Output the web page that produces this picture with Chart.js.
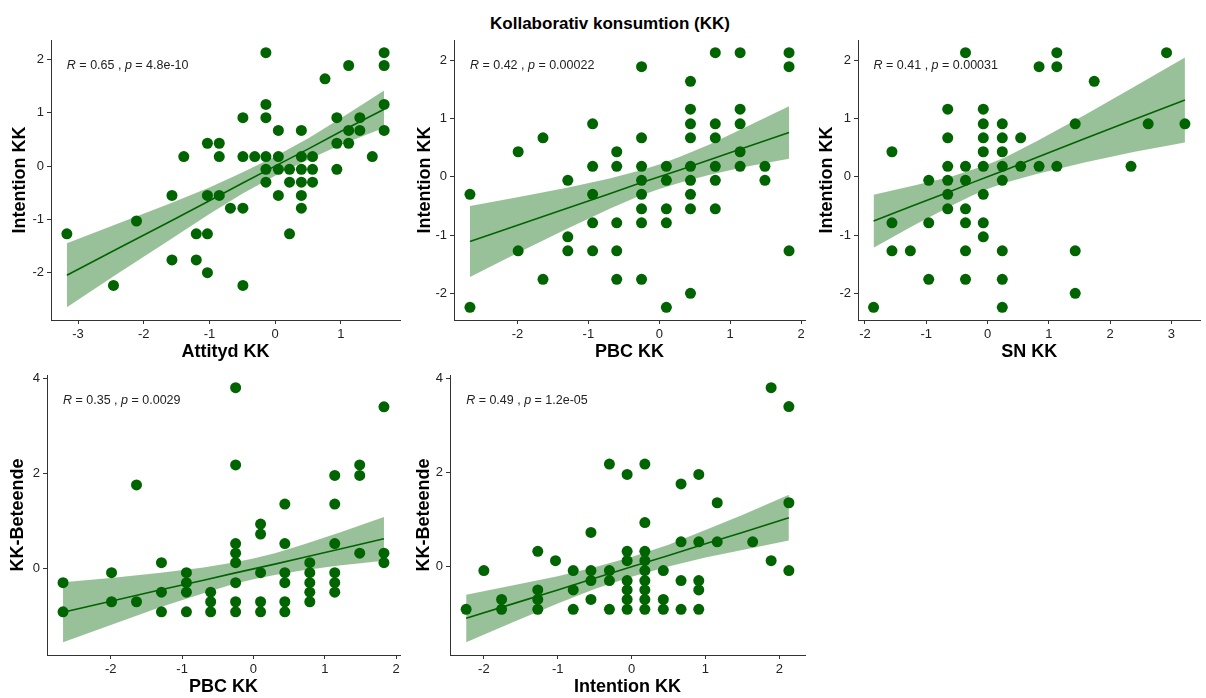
<!DOCTYPE html>
<html>
<head>
<meta charset="utf-8">
<title>Kollaborativ konsumtion (KK)</title>
<script src="https://cdn.jsdelivr.net/npm/chart.js@4.4.0/dist/chart.umd.min.js"></script>
<style>
    html, body { margin: 0; padding: 0; background: #fff; overflow: hidden; }
    body { width: 1206px; height: 698px; position: relative; font-family: "Liberation Sans", Arial, sans-serif; }
    .titel { position: absolute; left: 410px; top: 13px; width: 400px; text-align: center;
             font-size: 17px; font-weight: bold; line-height: 22px; color: #000; }
    .panel { position: absolute; }
</style>
</head>
<body>
<div class="titel">Kollaborativ konsumtion (KK)</div>
<div class="panel" style="left:0px;top:30px;width:410px;height:340px"><canvas id="p1"></canvas></div>
<div class="panel" style="left:405px;top:30px;width:410px;height:340px"><canvas id="p2"></canvas></div>
<div class="panel" style="left:807px;top:30px;width:399px;height:340px"><canvas id="p3"></canvas></div>
<div class="panel" style="left:0px;top:365px;width:410px;height:340px"><canvas id="p4"></canvas></div>
<div class="panel" style="left:405px;top:365px;width:410px;height:340px"><canvas id="p5"></canvas></div>
<script>
// Attityd KK vs Intention KK
const attityd1 = [-3.17,-2.46,-2.11,-1.57,-1.57,-1.39,-1.20,-1.20,-1.03,-1.03,-1.03,-1.03,-0.85,-0.85,-0.85,-0.68,-0.49,-0.49,-0.49,-0.49,-0.31,-0.14,-0.14,-0.14,-0.14,-0.14,-0.14,0.05,0.05,0.05,0.05,0.22,0.22,0.22,0.40,0.40,0.40,0.40,0.40,0.40,0.57,0.57,0.57,0.76,0.94,0.94,0.94,1.12,1.12,1.12,1.29,1.29,1.48,1.66,1.66,1.66,1.66];
const intention1 = [-1.27,-2.24,-1.03,-0.55,-1.76,0.18,-1.27,-1.76,0.43,-0.55,-1.27,-2.00,0.43,0.18,-0.55,-0.79,0.91,0.18,-0.79,-2.24,0.18,2.13,1.16,0.91,0.18,-0.06,-0.30,0.67,0.18,-0.06,-0.55,-0.06,-0.30,-1.27,0.67,0.18,-0.06,-0.30,-0.55,-0.79,0.18,-0.06,-0.30,1.64,0.91,0.43,-0.06,1.89,0.67,0.43,0.91,0.67,0.18,2.13,1.89,1.16,0.67];
const fitX1 = [-3.17,-2.4,-1.6,-1.0,-0.5,0,0.5,1.0,1.66];
const fit1 = [-2.05,-1.55,-1.04,-0.65,-0.32,0,0.32,0.65,1.07];
const hi1 = [-1.45,-1.08,-0.70,-0.40,-0.12,0.18,0.52,0.90,1.42];
const lo1 = [-2.65,-2.02,-1.38,-0.90,-0.52,-0.18,0.12,0.40,0.72];

// PBC KK vs Intention KK
const pbc2 = [-2.67,-2.67,-1.99,-1.99,-1.64,-1.64,-1.29,-1.29,-1.29,-0.94,-0.94,-0.94,-0.94,-0.94,-0.60,-0.60,-0.60,-0.60,-0.60,-0.25,-0.25,-0.25,-0.25,-0.25,-0.25,-0.25,-0.25,0.10,0.10,0.10,0.10,0.10,0.44,0.44,0.44,0.44,0.44,0.44,0.44,0.44,0.44,0.79,0.79,0.79,0.79,0.79,0.79,1.14,1.14,1.14,1.14,1.14,1.49,1.49,1.83,1.83,1.83];
const intention2 = [-0.30,-2.24,0.43,-1.27,0.67,-1.76,-0.06,-1.03,-1.27,0.91,0.18,-0.30,-0.79,-1.27,0.43,0.18,-0.79,-1.27,-1.76,1.89,0.67,0.18,-0.06,-0.30,-0.55,-0.79,-1.76,0.18,-0.06,-0.55,-0.79,-2.24,1.64,1.16,0.91,0.67,0.18,-0.06,-0.30,-0.55,-2.00,2.13,0.91,0.67,0.18,-0.06,-0.55,2.13,1.16,0.91,0.43,0.18,0.18,-0.06,2.13,1.89,-1.27];
const fitX2 = [-2.67,-2.0,-1.3,-0.7,-0.3,0,0.3,0.7,1.2,1.83];
const fit2 = [-1.11,-0.83,-0.54,-0.29,-0.12,0,0.12,0.29,0.50,0.76];
const hi2 = [-0.50,-0.35,-0.19,-0.03,0.10,0.21,0.35,0.55,0.84,1.21];
const lo2 = [-1.72,-1.31,-0.89,-0.55,-0.34,-0.21,-0.10,0.03,0.17,0.31];

// SN KK vs Intention KK
const sn3 = [-1.86,-1.56,-1.56,-1.56,-1.26,-0.96,-0.96,-0.96,-0.65,-0.65,-0.65,-0.65,-0.65,-0.65,-0.36,-0.36,-0.36,-0.36,-0.36,-0.36,-0.36,-0.07,-0.07,-0.07,-0.07,-0.07,-0.07,-0.07,-0.07,0.24,0.24,0.24,0.24,0.24,0.24,0.24,0.24,0.54,0.54,0.84,0.84,1.13,1.13,1.13,1.43,1.43,1.43,1.74,2.34,2.62,2.92,3.22];
const intention3 = [-2.24,0.43,-0.79,-1.27,-1.27,-0.06,-0.79,-1.76,1.16,0.67,0.18,-0.06,-0.30,-0.55,2.13,0.18,-0.06,-0.55,-0.79,-1.27,-1.76,1.16,0.91,0.67,0.43,0.18,-0.30,-0.79,-1.03,0.91,0.67,0.43,0.18,-0.06,-1.27,-1.76,-2.24,0.67,0.18,1.89,0.18,2.13,1.89,0.18,0.91,-1.27,-2.00,1.64,0.18,0.91,2.13,0.91];
const fitX3 = [-1.86,-1.2,-0.6,-0.25,0,0.3,0.8,1.6,2.4,3.22];
const fit3 = [-0.76,-0.49,-0.25,-0.10,0,0.12,0.33,0.66,0.99,1.32];
const hi3 = [-0.31,-0.15,0.00,0.12,0.21,0.34,0.61,1.07,1.55,2.05];
const lo3 = [-1.22,-0.83,-0.50,-0.32,-0.21,-0.10,0.05,0.25,0.43,0.59];

// PBC KK vs KK-Beteende
const pbc4 = [-2.67,-2.67,-1.99,-1.99,-1.64,-1.64,-1.29,-1.29,-1.29,-0.94,-0.94,-0.94,-0.94,-0.60,-0.60,-0.60,-0.25,-0.25,-0.25,-0.25,-0.25,-0.25,-0.25,-0.25,0.10,0.10,0.10,0.10,0.10,0.44,0.44,0.44,0.44,0.44,0.44,0.79,0.79,0.79,0.79,0.79,1.14,1.14,1.14,1.14,1.14,1.14,1.49,1.49,1.49,1.83,1.83,1.83];
const beteende4 = [-0.29,-0.90,-0.08,-0.69,1.76,-0.69,0.13,-0.49,-0.90,-0.08,-0.29,-0.49,-0.90,-0.49,-0.69,-0.90,3.80,2.18,0.53,0.33,0.13,-0.29,-0.69,-0.90,0.94,0.73,-0.08,-0.69,-0.90,1.36,0.53,-0.08,-0.29,-0.69,-0.90,0.13,-0.08,-0.29,-0.49,-0.69,1.96,1.36,0.53,-0.08,-0.29,-0.49,2.18,1.96,0.33,3.40,0.33,0.13];
const fitX4 = [-2.67,-2.0,-1.3,-0.7,-0.3,0,0.3,0.7,1.2,1.83];
const fit4 = [-0.91,-0.68,-0.44,-0.24,-0.10,0,0.10,0.24,0.41,0.63];
const hi4 = [-0.28,-0.19,-0.08,0.03,0.13,0.22,0.33,0.51,0.76,1.09];
const lo4 = [-1.54,-1.18,-0.80,-0.51,-0.33,-0.22,-0.13,-0.03,0.07,0.17];

// Intention KK vs KK-Beteende
const intention5 = [-2.24,-2.00,-1.76,-1.76,-1.27,-1.27,-1.27,-1.27,-1.03,-0.79,-0.79,-0.79,-0.55,-0.55,-0.55,-0.55,-0.30,-0.30,-0.30,-0.30,-0.06,-0.06,-0.06,-0.06,-0.06,-0.06,-0.06,0.18,0.18,0.18,0.18,0.18,0.18,0.18,0.18,0.18,0.43,0.43,0.43,0.67,0.67,0.67,0.67,0.91,0.91,0.91,0.91,0.91,1.16,1.16,1.64,1.89,1.89,2.13,2.13,2.13];
const beteende5 = [-0.90,-0.08,-0.69,-0.90,0.33,-0.49,-0.69,-0.90,0.13,-0.08,-0.49,-0.90,0.73,-0.08,-0.29,-0.69,2.18,-0.08,-0.29,-0.90,1.96,0.33,0.13,-0.29,-0.49,-0.69,-0.90,2.18,0.94,0.33,0.13,-0.08,-0.29,-0.49,-0.69,-0.90,-0.08,-0.69,-0.90,1.76,0.53,-0.29,-0.90,1.96,0.53,-0.29,-0.49,-0.90,1.36,0.53,0.53,3.80,0.13,3.40,1.36,-0.08];
const fitX5 = [-2.24,-1.6,-1.0,-0.5,0,0.5,1.0,1.5,2.13];
const fit5 = [-1.09,-0.78,-0.49,-0.24,0,0.24,0.49,0.73,1.04];
const hi5 = [-0.59,-0.39,-0.20,-0.01,0.21,0.47,0.78,1.10,1.53];
const lo5 = [-1.60,-1.17,-0.78,-0.47,-0.21,0.01,0.20,0.36,0.56];

// tick labels
const ticksX1 = [-3, -2, -1, 0, 1];
const ticksX2 = [-2, -1, 0, 1, 2];
const ticksX3 = [-2, -1, 0, 1, 2, 3];
const ticksYIntention = [-2, -1, 0, 1, 2];
const ticksYBeteende = [0, 2, 4];

const green = '#006400';
const band = 'rgba(0, 100, 0, 0.4)';
const fontFamily = '"Liberation Sans", Arial, sans-serif';
Chart.defaults.font.family = fontFamily;

// R / p text in the top left corner, like stat_cor
const corLabel = {
    id: 'corLabel',
    afterDraw(chart, args, opts) {
        const ctx = chart.ctx;
        let x = chart.scales.x.getPixelForValue(opts.at);
        const y = chart.chartArea.top + 25.5;
        const parts = [['R', true], [' = ' + opts.r + ' , ', false], ['p', true], [' = ' + opts.p, false]];
        ctx.save();
        ctx.textBaseline = 'middle';
        ctx.textAlign = 'left';
        ctx.fillStyle = '#222';
        parts.forEach(([t, italic]) => {
            ctx.font = (italic ? 'italic ' : '') + '12.5px ' + fontFamily;
            ctx.fillText(t, x, y);
            x += ctx.measureText(t).width;
        });
        ctx.restore();
    }
};

// ggplot style 5% expansion
function expand(vals) {
    const mn = Math.min(...vals), mx = Math.max(...vals);
    const pad = (mx - mn) * 0.05;
    return [mn - pad, mx + pad];
}

function pts(xs, ys) {
    return xs.map((x, i) => ({ x: x, y: ys[i] }));
}

function panel(id, c) {
    const xr = expand(c.xs.concat(c.fx));
    const yr = expand(c.ys.concat(c.lo, c.hi));
    return new Chart(document.getElementById(id), {
        type: 'scatter',
        data: {
            datasets: [
                { data: pts(c.xs, c.ys), pointRadius: 5.5, pointHoverRadius: 5.5,
                  pointBackgroundColor: green, pointBorderWidth: 0 },
                { type: 'line', data: pts(c.fx, c.fit), borderColor: green, borderWidth: 1.6,
                  pointRadius: 0, tension: 0, fill: false },
                { type: 'line', data: pts(c.fx, c.hi), borderWidth: 0, borderColor: 'rgba(0,0,0,0)',
                  pointRadius: 0, tension: 0, fill: '+1', backgroundColor: band },
                { type: 'line', data: pts(c.fx, c.lo), borderWidth: 0, borderColor: 'rgba(0,0,0,0)',
                  pointRadius: 0, tension: 0, fill: false }
            ]
        },
        options: {
            animation: false,
            responsive: true,
            maintainAspectRatio: false,
            events: [],
            layout: { padding: { left: 0, top: 10, right: c.padRight, bottom: 0 } },
            plugins: {
                legend: { display: false },
                tooltip: { enabled: false },
                corLabel: { at: Math.min(...c.xs), r: c.r, p: c.p }
            },
            scales: {
                x: {
                    type: 'linear',
                    min: xr[0],
                    max: xr[1],
                    afterBuildTicks: s => { s.ticks = c.tx.map(v => ({ value: v })); },
                    afterFit: s => { s.height = 50; s.paddingLeft = 0; s.paddingRight = 0; },
                    grid: { drawOnChartArea: false, drawTicks: true, tickLength: 4, color: '#333' },
                    border: { display: true, color: '#333', width: 1 },
                    ticks: { color: '#222', font: { size: 13 }, padding: 3, maxRotation: 0, autoSkip: false },
                    title: { display: true, text: c.xTitle, color: '#000',
                             font: { size: 18, weight: 'bold' }, padding: { top: 0, bottom: 7.2 } }
                },
                y: {
                    type: 'linear',
                    min: yr[0],
                    max: yr[1],
                    afterBuildTicks: s => { s.ticks = c.ty.map(v => ({ value: v })); },
                    afterFit: s => { s.width = c.yW; s.paddingTop = 0; s.paddingBottom = 0; },
                    grid: { drawOnChartArea: false, drawTicks: true, tickLength: 4, color: '#333' },
                    border: { display: true, color: '#333', width: 1 },
                    ticks: { color: '#222', font: { size: 13 }, padding: 3, autoSkip: false },
                    title: { display: true, text: c.yTitle, color: '#000',
                             font: { size: 18, weight: 'bold' }, padding: { top: c.titlePad, bottom: 0 } }
                }
            }
        },
        plugins: [corLabel]
    });
}

panel('p1', { xs: attityd1, ys: intention1, fx: fitX1, fit: fit1, hi: hi1, lo: lo1,
    tx: ticksX1, ty: ticksYIntention, xTitle: 'Attityd KK', yTitle: 'Intention KK',
    r: '0.65', p: '4.8e-10', yW: 51, titlePad: 9, padRight: 10 });
panel('p2', { xs: pbc2, ys: intention2, fx: fitX2, fit: fit2, hi: hi2, lo: lo2,
    tx: ticksX2, ty: ticksYIntention, xTitle: 'PBC KK', yTitle: 'Intention KK',
    r: '0.42', p: '0.00022', yW: 49, titlePad: 9, padRight: 10 });
panel('p3', { xs: sn3, ys: intention3, fx: fitX3, fit: fit3, hi: hi3, lo: lo3,
    tx: ticksX3, ty: ticksYIntention, xTitle: 'SN KK', yTitle: 'Intention KK',
    r: '0.41', p: '0.00031', yW: 51, titlePad: 9, padRight: 1 });
panel('p4', { xs: pbc4, ys: beteende4, fx: fitX4, fit: fit4, hi: hi4, lo: lo4,
    tx: ticksX2, ty: ticksYBeteende, xTitle: 'PBC KK', yTitle: 'KK-Beteende',
    r: '0.35', p: '0.0029', yW: 47, titlePad: 7.5, padRight: 10 });
panel('p5', { xs: intention5, ys: beteende5, fx: fitX5, fit: fit5, hi: hi5, lo: lo5,
    tx: ticksX2, ty: ticksYBeteende, xTitle: 'Intention KK', yTitle: 'KK-Beteende',
    r: '0.49', p: '1.2e-05', yW: 45, titlePad: 8.5, padRight: 10 });
</script>
</body>
</html>
